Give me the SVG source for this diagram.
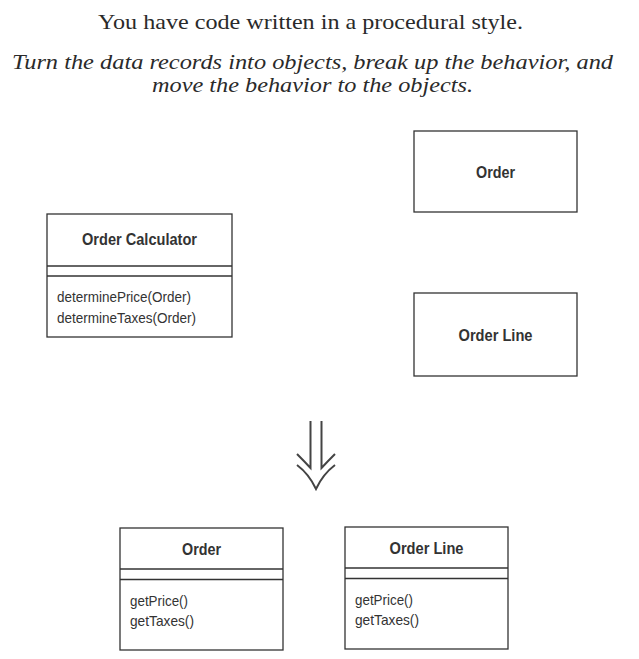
<svg xmlns="http://www.w3.org/2000/svg" width="639" height="659" viewBox="0 0 639 659">
<style>
.box{fill:none;stroke:#333;stroke-width:1.3}
.ttl{font-family:"Liberation Sans",Arial,sans-serif;font-weight:bold;font-size:16px;fill:#333;text-anchor:middle}
.m{font-family:"Liberation Sans",Arial,sans-serif;font-size:15px;fill:#333}
.hd{font-family:"Liberation Serif","Times New Roman",serif;font-size:21.5px;fill:#2a2a2a}
.it{font-style:italic}
.arr{fill:none;stroke:#444;stroke-width:2;stroke-linecap:butt}
</style>
<rect width="639" height="659" fill="#fff"/>
<g id="heading">
<text class="hd" x="98" y="29" textLength="425" lengthAdjust="spacingAndGlyphs">You have code written in a procedural style.</text>
<text class="hd it" x="12" y="69" textLength="601" lengthAdjust="spacingAndGlyphs">Turn the data records into objects, break up the behavior, and</text>
<text class="hd it" x="152" y="92" textLength="321" lengthAdjust="spacingAndGlyphs">move the behavior to the objects.</text>
</g>
<g id="order-calculator">
<rect class="box" x="47" y="214" width="185" height="123"/>
<line class="box" x1="47" y1="266" x2="232" y2="266"/>
<line class="box" x1="47" y1="276" x2="232" y2="276"/>
<text class="ttl" x="139.5" y="245" textLength="115" lengthAdjust="spacingAndGlyphs">Order Calculator</text>
<text class="m" x="57" y="302" textLength="134" lengthAdjust="spacingAndGlyphs">determinePrice(Order)</text>
<text class="m" x="57" y="323" textLength="139" lengthAdjust="spacingAndGlyphs">determineTaxes(Order)</text>
</g>
<g id="order-record">
<rect class="box" x="414" y="131" width="163" height="81"/>
<text class="ttl" x="495.5" y="177.5" textLength="39" lengthAdjust="spacingAndGlyphs">Order</text>
</g>
<g id="orderline-record">
<rect class="box" x="414" y="293" width="163" height="83"/>
<text class="ttl" x="495.5" y="341" textLength="74" lengthAdjust="spacingAndGlyphs">Order Line</text>
</g>
<g id="connectors">
<path class="arr" d="M310.5,421 V468 Q304,461 297,454"/>
<path class="arr" d="M321.5,421 V468 Q328,461 335,454"/>
<path class="arr" d="M297,465 Q309,474 316,489 Q323,474 335,465"/>
</g>
<g id="order-class">
<rect class="box" x="120" y="528" width="163" height="122"/>
<line class="box" x1="120" y1="569" x2="283" y2="569"/>
<line class="box" x1="120" y1="579.5" x2="283" y2="579.5"/>
<text class="ttl" x="201.5" y="555" textLength="39" lengthAdjust="spacingAndGlyphs">Order</text>
<text class="m" x="130" y="605.5" textLength="58" lengthAdjust="spacingAndGlyphs">getPrice()</text>
<text class="m" x="130" y="625.5" textLength="64" lengthAdjust="spacingAndGlyphs">getTaxes()</text>
</g>
<g id="orderline-class">
<rect class="box" x="345" y="527" width="163" height="122"/>
<line class="box" x1="345" y1="568" x2="508" y2="568"/>
<line class="box" x1="345" y1="578.5" x2="508" y2="578.5"/>
<text class="ttl" x="426.5" y="554" textLength="74" lengthAdjust="spacingAndGlyphs">Order Line</text>
<text class="m" x="355" y="604.5" textLength="58" lengthAdjust="spacingAndGlyphs">getPrice()</text>
<text class="m" x="355" y="624.5" textLength="64" lengthAdjust="spacingAndGlyphs">getTaxes()</text>
</g>
</svg>
